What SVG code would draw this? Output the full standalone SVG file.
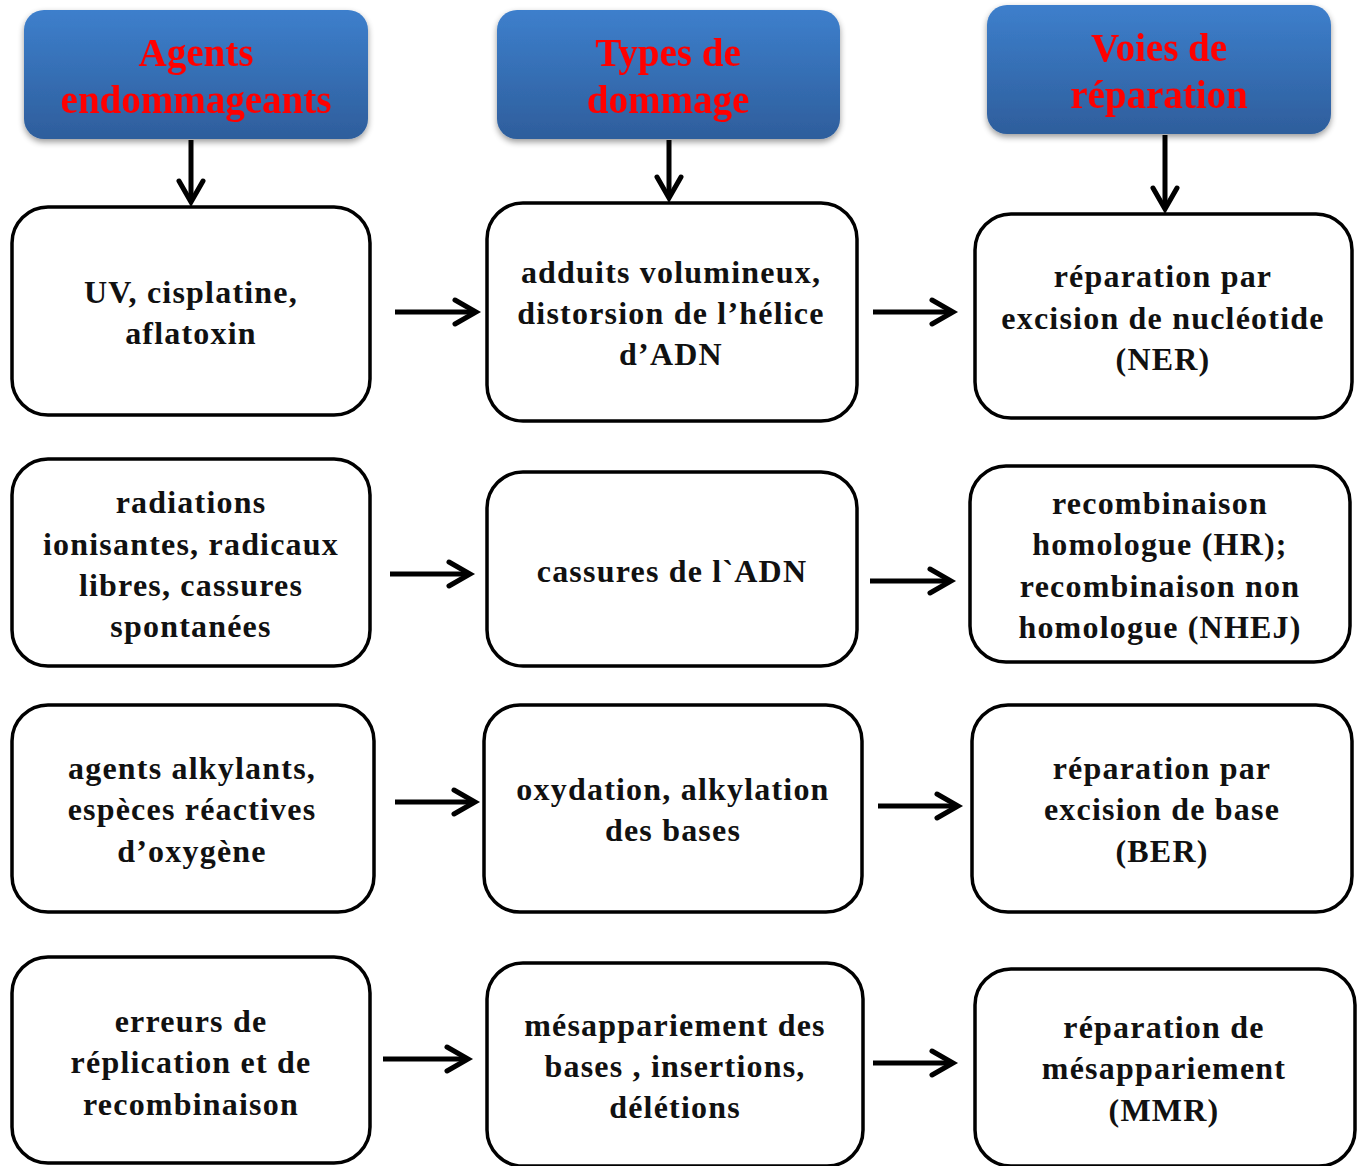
<svg xmlns="http://www.w3.org/2000/svg" width="1358" height="1166" viewBox="0 0 1358 1166">
<style>
.hdr{stroke:none;fill:url(#g)}
.box{fill:#fff;stroke:#000;stroke-width:3.5}
.ht{font-family:"Liberation Serif",serif;font-weight:bold;font-size:39px;fill:#ff0000;text-anchor:middle}
.t{font-family:"Liberation Serif",serif;font-weight:bold;font-size:32px;fill:#111;text-anchor:middle;letter-spacing:1.2px}
.c line{stroke:#000;stroke-width:5}
.c path{fill:none;stroke:#000;stroke-width:5;stroke-linecap:round;stroke-linejoin:miter}
</style>
<defs>
<linearGradient id="g" x1="0" y1="0" x2="0" y2="1">
<stop offset="0" stop-color="#3d7fcc"/>
<stop offset="1" stop-color="#2e5e9c"/>
</linearGradient>
<filter id="sh" x="-10%" y="-10%" width="120%" height="130%">
<feGaussianBlur in="SourceAlpha" stdDeviation="3"/>
<feOffset dy="3"/>
<feComponentTransfer><feFuncA type="linear" slope="0.4"/></feComponentTransfer>
<feMerge><feMergeNode/><feMergeNode in="SourceGraphic"/></feMerge>
</filter>
</defs>
<rect width="1358" height="1166" fill="#fff"/>

<g id="h1" filter="url(#sh)"><rect class="hdr" x="24" y="10" width="344" height="129" rx="20"/>
<text class="ht" x="196" y="66">Agents</text><text class="ht" x="196" y="113">endommageants</text></g>
<g id="h2" filter="url(#sh)"><rect class="hdr" x="497" y="10" width="343" height="129" rx="20"/>
<text class="ht" x="668" y="66">Types de</text><text class="ht" x="668" y="113">dommage</text></g>
<g id="h3" filter="url(#sh)"><rect class="hdr" x="987" y="5" width="344" height="129" rx="20"/>
<text class="ht" x="1159" y="61">Voies de</text><text class="ht" x="1159" y="108">réparation</text></g>

<g id="a1"><rect class="box" x="12" y="207" width="358" height="208" rx="36"/>
<text class="t" x="191" y="303">UV, cisplatine,</text><text class="t" x="191" y="344">aflatoxin</text></g>
<g id="b1"><rect class="box" x="487" y="203" width="370" height="218" rx="36"/>
<text class="t" x="671" y="283">adduits volumineux,</text><text class="t" x="671" y="324">distorsion de l’hélice</text><text class="t" x="671" y="365">d’ADN</text></g>
<g id="c1"><rect class="box" x="975" y="214" width="377" height="204" rx="36"/>
<text class="t" x="1163" y="287">réparation par</text><text class="t" x="1163" y="329">excision de nucléotide</text><text class="t" x="1163" y="370">(NER)</text></g>

<g id="a2"><rect class="box" x="12" y="459" width="358" height="207" rx="36"/>
<text class="t" x="191" y="513">radiations</text><text class="t" x="191" y="555">ionisantes, radicaux</text><text class="t" x="191" y="596">libres, cassures</text><text class="t" x="191" y="637">spontanées</text></g>
<g id="b2"><rect class="box" x="487" y="472" width="370" height="194" rx="36"/>
<text class="t" x="672" y="582">cassures de l`ADN</text></g>
<g id="c2"><rect class="box" x="970" y="466" width="380" height="196" rx="36"/>
<text class="t" x="1160" y="514">recombinaison</text><text class="t" x="1160" y="555">homologue (HR);</text><text class="t" x="1160" y="597">recombinaison non</text><text class="t" x="1160" y="638">homologue (NHEJ)</text></g>

<g id="a3"><rect class="box" x="12" y="705" width="362" height="207" rx="36"/>
<text class="t" x="192" y="779">agents alkylants,</text><text class="t" x="192" y="820">espèces réactives</text><text class="t" x="192" y="862">d’oxygène</text></g>
<g id="b3"><rect class="box" x="484" y="705" width="378" height="207" rx="36"/>
<text class="t" x="673" y="800">oxydation, alkylation</text><text class="t" x="673" y="841">des bases</text></g>
<g id="c3"><rect class="box" x="972" y="705" width="380" height="207" rx="36"/>
<text class="t" x="1162" y="779">réparation par</text><text class="t" x="1162" y="820">excision de base</text><text class="t" x="1162" y="862">(BER)</text></g>

<g id="a4"><rect class="box" x="12" y="957" width="358" height="206" rx="36"/>
<text class="t" x="191" y="1032">erreurs de</text><text class="t" x="191" y="1073">réplication et de</text><text class="t" x="191" y="1115">recombinaison</text></g>
<g id="b4"><rect class="box" x="487" y="963" width="376" height="203" rx="36"/>
<text class="t" x="675" y="1036">mésappariement des</text><text class="t" x="675" y="1077">bases , insertions,</text><text class="t" x="675" y="1118">délétions</text></g>
<g id="c4"><rect class="box" x="975" y="969" width="380" height="197" rx="36"/>
<text class="t" x="1164" y="1038">réparation de</text><text class="t" x="1164" y="1079">mésappariement</text><text class="t" x="1164" y="1121">(MMR)</text></g>

<g id="connectors" class="c">
<line x1="191" y1="140" x2="191" y2="202"/><path d="M179 181 L191 202 L203 181"/>
<line x1="669" y1="140" x2="669" y2="198"/><path d="M657 177 L669 198 L681 177"/>
<line x1="1165" y1="135" x2="1165" y2="209"/><path d="M1153 188 L1165 209 L1177 188"/>

<line x1="395" y1="312" x2="476" y2="312"/><path d="M455 300 L476 312 L455 324"/>
<line x1="873" y1="312" x2="953" y2="312"/><path d="M932 300 L953 312 L932 324"/>
<line x1="390" y1="574" x2="470" y2="574"/><path d="M449 562 L470 574 L449 586"/>
<line x1="870" y1="581" x2="951" y2="581"/><path d="M930 569 L951 581 L930 593"/>
<line x1="395" y1="802" x2="475" y2="802"/><path d="M454 790 L475 802 L454 814"/>
<line x1="878" y1="806" x2="958" y2="806"/><path d="M937 794 L958 806 L937 818"/>
<line x1="383" y1="1059" x2="468" y2="1059"/><path d="M447 1047 L468 1059 L447 1071"/>
<line x1="873" y1="1063" x2="953" y2="1063"/><path d="M932 1051 L953 1063 L932 1075"/>
</g>
</svg>
